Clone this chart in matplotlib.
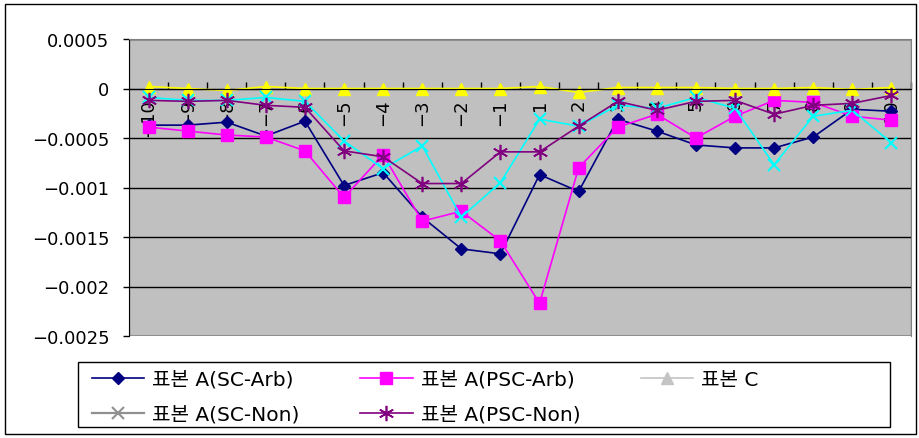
import matplotlib.pyplot as plt
from matplotlib.patches import Rectangle
from matplotlib.lines import Line2D

# fonts: latin glyphs from DejaVu, hangul falls through to Noto CJK
plt.rcParams['font.family'] = ['DejaVu Sans', 'Noto Sans CJK KR']
plt.rcParams['font.size'] = 13

# event window (no day 0)
lags = [-10, -9, -8, -7, -6, -5, -4, -3, -2, -1,
        1, 2, 3, 4, 5, 6, 7, 8, 9, 10]

sc_arb = [-0.00037, -0.00037, -0.00034, -0.00048, -0.00033, -0.00098, -0.00085,
          -0.00130, -0.00162, -0.00167, -0.00087, -0.00104, -0.00031, -0.00043,
          -0.00057, -0.00060, -0.00060, -0.00049, -0.00021, -0.00023]
psc_arb = [-0.00039, -0.00043, -0.00047, -0.00049, -0.00063, -0.00110, -0.00067,
           -0.00134, -0.00124, -0.00154, -0.00217, -0.00080, -0.00039, -0.00026,
           -0.00050, -0.00028, -0.00012, -0.00014, -0.00028, -0.00032]
sample_c = [0.00002, 0.0, -0.00002, 0.00002, 0.0, 0.0, 0.0, 0.0, 0.0, 0.0,
            0.00002, -0.00004, 0.00001, 0.00001, 0.00001, 0.0, 0.0, 0.00001,
            -0.00001, 0.00001]
sc_non = [-0.00009, -0.00012, -0.00012, -0.00009, -0.00013, -0.00053, -0.00081,
          -0.00058, -0.00130, -0.00095, -0.00031, -0.00038, -0.00017, -0.00020,
          -0.00009, -0.00020, -0.00077, -0.00028, -0.00022, -0.00055]
psc_non = [-0.00012, -0.00013, -0.00012, -0.00017, -0.00019, -0.00063, -0.00069,
           -0.00096, -0.00096, -0.00064, -0.00064, -0.00038, -0.00013, -0.00022,
           -0.00013, -0.00012, -0.00026, -0.00017, -0.00015, -0.00007]

labels = ['표본 A(SC-Arb)', '표본 A(PSC-Arb)', '표본 C',
          '표본 A(SC-Non)', '표본 A(PSC-Non)']

W, H = 920, 439
fig = plt.figure(figsize=(W / 100, H / 100), dpi=100)

# outer chart border
fig.patches.append(Rectangle((5 / W, 4 / H), 911 / W, 430 / H, transform=fig.transFigure,
                             fill=False, edgecolor='black', linewidth=1))

ax = fig.add_axes([129 / W, 102 / H, 782 / W, 297 / H])
ax.set_facecolor('#c0c0c0')
x = list(range(len(lags)))

l1, = ax.plot(x, sc_arb, color='#000080', marker='D', markersize=6.5, linewidth=1.2)
l2, = ax.plot(x, psc_arb, color='#ff00ff', marker='s', markersize=9, linewidth=1.2)
l3, = ax.plot(x, sample_c, color='#ffff00', marker='^', markersize=9, linewidth=1.2)
l4, = ax.plot(x, sc_non, color='#00ffff', marker='x', markersize=9, markeredgewidth=1.5,
              linewidth=1.2)
l5, = ax.plot(x, psc_non, color='#800080', marker=(6, 2, 0), markersize=11,
              markeredgewidth=1.2, linewidth=1.2)

ax.set_xlim(-0.5, len(lags) - 0.5)
ax.set_ylim(-0.0025, 0.0005)
ax.set_yticks([0.0005, 0, -0.0005, -0.001, -0.0015, -0.002, -0.0025])
ax.set_yticklabels(['0.0005', '0', '\u22120.0005', '\u22120.001', '\u22120.0015',
                    '\u22120.002', '\u22120.0025'])
ax.yaxis.grid(True, color='black', linewidth=1)
ax.set_axisbelow(True)
ax.tick_params(axis='y', direction='out', length=4, pad=10, width=1)

# category axis crosses at zero, labels turned sideways
ax.spines['bottom'].set_position(('data', 0))
ax.spines['bottom'].set_color('black')
ax.set_xticks(x)
ax.set_xticklabels([str(v).replace('-', '\u2212') for v in lags], rotation=90)
ax.set_xticks([i + 0.5 for i in x], minor=True)
ax.tick_params(axis='x', which='major', length=0, pad=7)
ax.tick_params(axis='x', which='minor', direction='in', length=5, width=1, color='black')

ax.spines['left'].set_color('black')
for side in ('top', 'right'):
    ax.spines[side].set_color('#808080')
ax.add_patch(Rectangle((0, 0), 1, 1, transform=ax.transAxes, fill=False,
                       edgecolor='#808080', linewidth=1, zorder=0.5))

# legend box below the plot
fig.patches.append(Rectangle((78 / W, (H - 428) / H), 812 / W, 65 / H,
                             transform=fig.transFigure, fill=False,
                             edgecolor='black', linewidth=1))
h3 = Line2D([], [], color='#c4c4c4', marker='^', markersize=9, linewidth=1.2)
h4 = Line2D([], [], color='#909090', marker='x', markersize=9, markeredgewidth=1.5,
            linewidth=1.6)
fig.legend([l1, h4, l2, l5, h3],
           [labels[0], labels[3], labels[1], labels[4], labels[2]],
           ncol=3, loc='upper left', bbox_to_anchor=(82 / W, (H - 361) / H),
           frameon=False, borderpad=0, fontsize=14.5, handlelength=2.6,
           handletextpad=0.4, columnspacing=3.0, labelspacing=0.8)

fig.savefig('out.png', dpi=100)
